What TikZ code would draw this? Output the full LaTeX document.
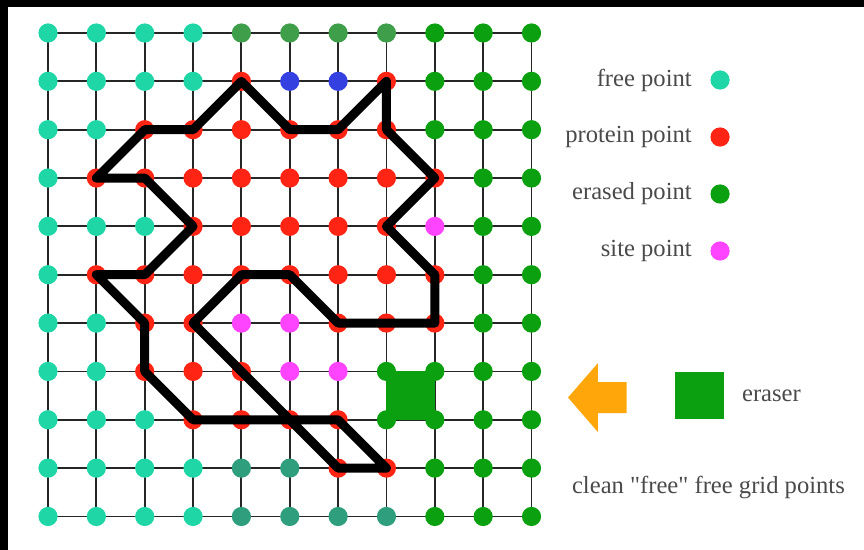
\documentclass[tikz,border=0pt]{standalone}
\usepackage{fontspec}
\setmainfont{Liberation Serif}[Ligatures=TeXOff]
\usepackage{xcolor}
\definecolor{ptF}{HTML}{1ED6A6}
\definecolor{ptM}{HTML}{3E9E4A}
\definecolor{ptE}{HTML}{0AA00F}
\definecolor{ptP}{HTML}{FF2414}
\definecolor{ptB}{HTML}{3440E0}
\definecolor{ptS}{HTML}{FF44FF}
\definecolor{ptD}{HTML}{2E9E7C}
\definecolor{arrowgold}{HTML}{FFA60A}
\definecolor{labelgrey}{HTML}{4A4A4A}

\begin{document}
\begin{tikzpicture}[
  x=1.2088cm,
  y=-1.2088cm,
  every node/.style={font=\fontsize{17.5}{21}\selectfont, labelgrey},
  gridline/.style={black!85, line width=1.3pt},
  boundary/.style={black, line width=6.4pt, line join=round},
  eraserbox/.style={fill=ptE},
  legendtext/.style={anchor=east, inner sep=0pt},
  cleanarrow/.style={fill=arrowgold}
]

  % ---- frame: white sheet, black edge on top and on the left -----------
  \useasboundingbox (-0.993,-0.6825) rectangle (16.877,10.693);
  \fill[black] (-0.993,-0.6825) rectangle (16.877,-0.538);
  \fill[black] (-0.993,-0.6825) rectangle (-0.828,10.693);

  % ---- the 11 x 11 grid ------------------------------------------------
  \foreach \c in {0,...,10}
    \foreach \r in {0,...,10}
      \coordinate (g-\c-\r) at (\c,\r);

  \foreach \i in {0,...,10} {
    \draw[gridline] (g-0-\i) -- (g-10-\i);
    \draw[gridline] (g-\i-0) -- (g-\i-10);
  }

  % the eraser sits on one cell, its corners are already erased
  \fill[eraserbox] (g-7-7) rectangle (g-8-8);

  % ---- the points, one row at a time -----------------------------------
  % F free, M/D free but shaded, P protein, B blue, S site, E erased
  \foreach \r/\row in {
    0/{F,F,F,F,M,M,M,M,E,E,E},
    1/{F,F,F,F,P,B,B,P,E,E,E},
    2/{F,F,P,P,P,P,P,P,E,E,E},
    3/{F,P,P,P,P,P,P,P,P,E,E},
    4/{F,F,F,P,P,P,P,P,S,E,E},
    5/{F,P,P,P,P,P,P,P,P,E,E},
    6/{F,F,P,P,S,S,P,P,P,E,E},
    7/{F,F,P,P,P,S,S,E,E,E,E},
    8/{F,F,F,P,P,P,P,E,E,E,E},
    9/{F,F,F,F,D,D,P,P,E,E,E},
    10/{F,F,F,F,D,D,D,D,E,E,E}}
    \foreach \t [count=\c from 0] in \row
      \fill[fill=pt\t] (g-\c-\r) circle[radius=0.24cm];

  % ---- protein surface -------------------------------------------------
  \draw[boundary]
    (g-4-1) -- (g-5-2) -- (g-6-2) -- (g-7-1) -- (g-7-2) -- (g-8-3)
    -- (g-7-4) -- (g-8-5) -- (g-8-6) -- (g-6-6) -- (g-5-5) -- (g-4-5)
    -- (g-3-6) -- (g-6-9) -- (g-7-9) -- (g-6-8) -- (g-3-8) -- (g-2-7)
    -- (g-2-6) -- (g-1-5) -- (g-2-5) -- (g-3-4) -- (g-2-3) -- (g-1-3)
    -- (g-2-2) -- (g-3-2) -- cycle;

  % ---- legend ----------------------------------------------------------
  \foreach \t/\lab [count=\i from 0] in
    {F/free point, P/protein point, E/erased point, S/site point} {
    \coordinate (key-\t) at (13.9,0.972+1.179*\i);
    \fill[fill=pt\t] (key-\t) circle[radius=0.24cm];
    \node[legendtext] (keylab-\t) at (13.32,0.972+1.179*\i) {\lab};
  }

  \coordinate (eraserkey) at (13.475,7.5);
  \fill[eraserbox] ([shift={(-0.505,-0.49)}]eraserkey)
    rectangle ([shift={(0.505,0.49)}]eraserkey);
  \node[anchor=west, inner sep=0pt] (eraserlab) at (14.35,7.5) {eraser};

  % arrow: tip, head and shaft, measured off the tip
  \coordinate (cleantip) at (10.755,7.54);
  \fill[cleanarrow] (cleantip) -- ++(0.62,-0.715) -- ++(0,0.395)
    -- ++(0.594,0) -- ++(0,0.64) -- ++(-0.594,0) -- ++(0,0.395) -- cycle;

  \node (cleanlab) at (13.66,9.39) {clean "free" free grid points};

\end{tikzpicture}
\end{document}
